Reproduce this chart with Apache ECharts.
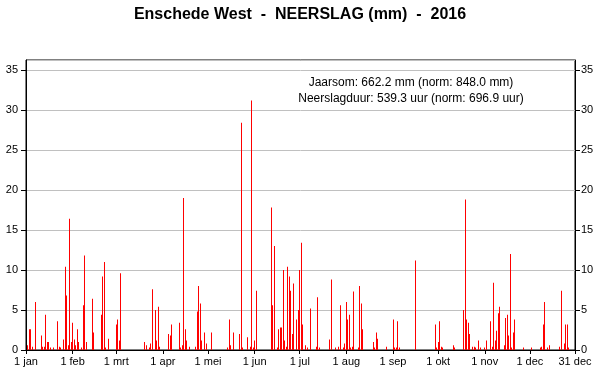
<!DOCTYPE html>
<html>
<head>
<meta charset="utf-8">
<script src="https://cdn.jsdelivr.net/npm/echarts@6/dist/echarts.min.js"></script>
<style>
html,body{margin:0;padding:0;background:#fff;}
#chart{width:600px;height:390px;}
</style>
</head>
<body>
<div id="chart"></div>
<script>
// Day-of-year index (0 = 1 jan 2016) for days with precipitation
const wetDays = [1,2,3,4,6,10,11,12,13,14,15,16,18,21,22,23,25,26,27,28,29,30,
  31,32,33,34,35,37,38,39,40,44,45,50,51,52,53,55,
  60,61,62,63,79,80,82,83,84,86,87,88,89,
  95,96,97,102,103,104,105,106,107,109,113,114,115,116,117,119,120,
  123,134,135,136,138,142,143,144,147,149,150,151,
  152,153,163,164,165,167,168,169,170,171,172,173,174,175,176,177,178,180,181,
  182,183,184,186,187,189,193,194,195,202,203,206,208,209,211,212,
  213,214,215,216,217,218,221,222,223,224,231,232,233,234,240,
  244,245,246,247,248,259,272,273,
  274,275,276,277,284,285,291,292,293,294,295,297,298,299,301,302,
  305,306,309,310,311,312,313,314,315,318,319,320,321,322,323,324,325,331,
  336,342,343,344,345,347,348,355,356,358,359,360,361];
// Daily precipitation (mm) for those days
const wetMm = [0.6,2.6,2.6,0.4,6.0,1.8,0.4,0.4,4.4,1.0,1.0,0.3,0.3,3.6,0.4,0.3,1.3,10.4,6.8,0.6,16.4,1.0,
  3.4,1.3,0.6,2.6,1.0,0.3,5.6,11.8,1.0,6.4,2.2,4.4,9.2,11.0,0.3,1.4,
  3.2,3.8,1.2,9.6,1.0,0.6,0.3,0.8,7.6,5.0,1.2,5.4,0.4,
  2.0,1.8,3.2,3.4,0.3,0.6,19.0,2.6,1.2,0.4,0.4,4.8,8.0,5.8,1.2,2.2,0.8,
  2.2,0.3,3.8,0.6,2.2,2.0,28.4,0.3,1.6,0.4,31.2,0.3,
  1.2,7.4,17.8,5.6,13.0,0.3,2.6,2.8,2.8,10.0,1.2,0.4,10.4,9.2,7.4,2.0,8.3,3.8,5.0,
  10.0,13.4,3.2,0.6,0.3,5.2,0.4,6.6,0.3,1.3,8.8,0.3,0.4,5.6,0.3,0.8,
  6.0,3.8,4.4,0.3,0.4,7.3,0.3,8.0,5.8,2.6,1.0,0.3,2.2,1.4,0.4,
  3.8,0.3,0.3,3.6,0.3,11.2,3.2,0.3,
  1.0,3.6,0.4,0.3,0.6,0.3,5.0,18.8,3.8,3.4,2.0,0.4,0.4,0.3,1.2,0.3,
  0.3,1.2,3.6,0.4,8.4,1.2,2.4,4.6,5.4,0.6,4.0,4.4,1.8,12.0,0.3,2.2,3.8,0.3,
  0.3,0.3,0.4,3.2,6.0,0.3,0.6,0.4,7.4,0.8,3.2,3.2,0.3];
const tickDays = [0,31,60,91,121,152,182,213,244,274,305,335,365];
const tickLabels = ['1 jan','1 feb','1 mrt','1 apr','1 mei','1 jun','1 jul','1 aug','1 sep','1 okt','1 nov','1 dec','31 dec'];
const yTicks = [0,5,10,15,20,25,30,35];
const titleText = 'Enschede West  -  NEERSLAG (mm)  -  2016';
const infoLines = ['Jaarsom: 662.2 mm (norm: 848.0 mm)', 'Neerslagduur: 539.3 uur (norm: 696.9 uur)'];

const nDays = 366;
const categories = [];
for (let i = 0; i < nDays; i++) categories.push(String(i));
const seriesData = wetDays.map((d, i) => [d, wetMm[i]]);

const FONT = 'Arial, "Liberation Sans", sans-serif';
const chart = echarts.init(document.getElementById('chart'), null, {renderer: 'canvas'});

const yAxisBase = {
  type: 'value', min: 0, max: 36.25, interval: 5,
  axisLine: {show: true, lineStyle: {color: '#000', width: 1}},
  axisTick: {show: true, length: 5, lineStyle: {color: '#000'}},
  axisLabel: {
    color: '#000', fontSize: 11, fontFamily: FONT,
    showMaxLabel: false,
    formatter: v => (yTicks.indexOf(v) >= 0 ? String(v) : '')
  }
};

chart.setOption({
  animation: false,
  backgroundColor: '#fff',
  title: {
    text: titleText, left: 'center', top: 2,
    textStyle: {fontSize: 16, fontWeight: 'bold', color: '#000', fontFamily: FONT}
  },
  grid: {left: 26, right: 25, top: 60, bottom: 40, show: true, borderColor: '#000', borderWidth: 1, backgroundColor: 'transparent'},
  xAxis: {
    type: 'category', data: categories, boundaryGap: false,
    axisLine: {show: true, lineStyle: {color: '#000', width: 1}},
    axisTick: {show: true, length: 4, interval: (i) => tickDays.indexOf(i) >= 0, lineStyle: {color: '#000'}},
    axisLabel: {
      color: '#000', fontSize: 11, fontFamily: FONT, margin: 6,
      interval: (i) => tickDays.indexOf(i) >= 0,
      formatter: (val, i) => { const k = tickDays.indexOf(Number(val)); return k >= 0 ? tickLabels[k] : ''; }
    },
    splitLine: {show: false}
  },
  yAxis: [
    Object.assign({}, yAxisBase, {position: 'left', axisLabel: Object.assign({}, yAxisBase.axisLabel, {margin: 8}),
      splitLine: {show: true, lineStyle: {color: '#c0c0c0', width: 1}}}),
    Object.assign({}, yAxisBase, {position: 'right', axisLabel: Object.assign({}, yAxisBase.axisLabel, {margin: 6}),
      splitLine: {show: false}})
  ],
  graphic: [
    {type: 'text', x: 411, y: 83, style: {text: infoLines[0], fill: '#000', font: '12px ' + FONT, textAlign: 'center', textVerticalAlign: 'middle'}},
    {type: 'text', x: 411, y: 99, style: {text: infoLines[1], fill: '#000', font: '12px ' + FONT, textAlign: 'center', textVerticalAlign: 'middle'}}
  ],
  series: [{
    type: 'custom',
    data: seriesData,
    encode: {x: 0, y: 1},
    clip: true,
    renderItem: function (params, api) {
      const d = api.value(0), v = api.value(1);
      const top = api.coord([d, v]);
      const base = api.coord([d, 0]);
      return {
        type: 'rect',
        shape: {x: Math.floor(top[0] + 0.001), y: top[1], width: 1, height: base[1] - top[1]},
        style: {fill: '#ff0000'}
      };
    }
  }]
});
</script>
</body>
</html>
